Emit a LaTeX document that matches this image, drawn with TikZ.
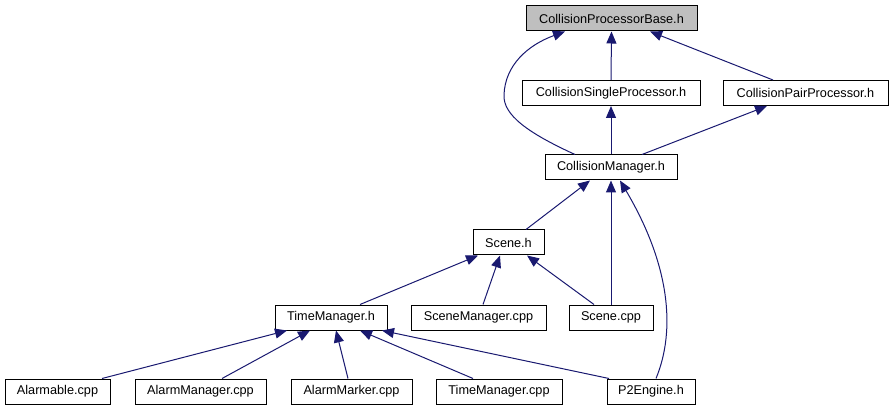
\documentclass[tikz,border=0pt]{standalone}
\usepackage{fontspec}
\setmainfont{Liberation Sans}
\usetikzlibrary{arrows.meta, calc}
\definecolor{edgeblue}{RGB}{25,25,112}
\definecolor{rootgray}{RGB}{191,191,191}
\tikzset{
  filebox/.style={rectangle, draw=black, fill=white, line width=1pt,
    minimum height=25pt, inner sep=0pt, font=\fontsize{12.7}{15}\selectfont},
  rootbox/.style={filebox, fill=rootgray},
  dep/.style={-{Triangle[length=12pt, width=10pt]}, color=edgeblue, line width=1pt}
}
\begin{document}
\begin{tikzpicture}[x=1pt, y=-1pt]
  \useasboundingbox (0,0) rectangle (893,411);

  % Headers at the top
  \node[rootbox, minimum width=171pt] (cpb) at (611.5,18.5) {CollisionProcessorBase.h};
  \node[filebox, minimum width=178pt] (csp) at (611,93) {CollisionSingleProcessor.h};
  \node[filebox, minimum width=165pt] (cpp) at (805.5,93) {CollisionPairProcessor.h};
  \node[filebox, minimum width=132pt] (cm) at (611,167.5) {CollisionManager.h};
  \node[filebox, minimum width=71pt] (sceneh) at (508.5,242.5) {Scene.h};

  % Middle row
  \node[filebox, minimum width=112pt] (tmh) at (331,317.5) {TimeManager.h};
  \node[filebox, minimum width=135pt] (smcpp) at (478.5,317.5) {SceneManager.cpp};
  \node[filebox, minimum width=84pt] (scenecpp) at (611,317.5) {Scene.cpp};

  % Bottom row
  \node[filebox, minimum width=105pt] (alarmable) at (57.5,391.5) {Alarmable.cpp};
  \node[filebox, minimum width=131pt] (alarmmgr) at (200.5,391.5) {AlarmManager.cpp};
  \node[filebox, minimum width=121pt] (alarmmarker) at (351.5,391.5) {AlarmMarker.cpp};
  \node[filebox, minimum width=126pt] (tmcpp) at (499,391.5) {TimeManager.cpp};
  \node[filebox, minimum width=88pt] (p2) at (651,391.5) {P2Engine.h};

  % Include edges
  \draw[dep] (csp.north) -- (cpb.south);
  \draw[dep] ([xshift=-32.5]cpp.north) -- ([xshift=38.5]cpb.south);
  \draw[dep] ([xshift=-36]cm.north) .. controls (528,133) and (503,115) .. (504,95)
    .. controls (505,65) and (528,45) .. ([xshift=-46.5]cpb.south);
  \draw[dep] (cm.north) -- (csp.south);
  \draw[dep] ([xshift=31]cm.north) -- ([xshift=-38.5]cpp.south);
  \draw[dep] ([xshift=17.5]sceneh.north) -- ([xshift=-21]cm.south);
  \draw[dep] (scenecpp.north) -- (cm.south);
  \draw[dep] ([xshift=5]p2.north) .. controls (676,330) and (670,265) .. ([xshift=9]cm.south);
  \draw[dep] ([xshift=29]tmh.north) -- ([xshift=-30.5]sceneh.south);
  \draw[dep] ([xshift=4.5]smcpp.north) -- ([xshift=-8.5]sceneh.south);
  \draw[dep] ([xshift=-17]scenecpp.north) -- ([xshift=18.5]sceneh.south);
  \draw[dep] ([xshift=44.5]alarmable.north) -- ([xshift=-44]tmh.south);
  \draw[dep] ([xshift=21.5]alarmmgr.north) -- ([xshift=-21]tmh.south);
  \draw[dep] ([xshift=-3.5]alarmmarker.north) -- ([xshift=5]tmh.south);
  \draw[dep] ([xshift=-26]tmcpp.north) -- ([xshift=29]tmh.south);
  \draw[dep] ([xshift=-42]p2.north) -- ([xshift=51]tmh.south);
\end{tikzpicture}
\end{document}
